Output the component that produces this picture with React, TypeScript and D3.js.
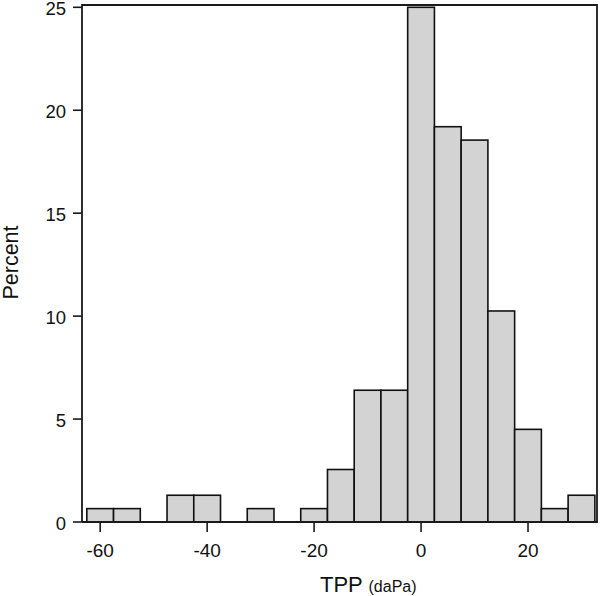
import React from "react";
import * as d3 from "d3";

// bin centers (daPa), width 5
const binCenters = [-60, -55, -50, -45, -40, -35, -30, -25, -20, -15, -10, -5, 0, 5, 10, 15, 20, 25, 30];
const percents = [0.65, 0.65, 0, 1.3, 1.3, 0, 0.65, 0, 0.65, 2.55, 6.4, 6.4, 25.0, 19.2, 18.55, 10.25, 4.5, 0.65, 1.3];
const xTicks = [-60, -40, -20, 0, 20];
const yTicks = [0, 5, 10, 15, 20, 25];
const binWidth = 5;

const W = 600;
const H = 596;
const left = 82;
const right = 597;
const top = 5;
const bottom = 522;

export default function App() {
  const x = d3.scaleLinear().domain([-63.4, 32.9]).range([left, right]);
  const y = d3.scaleLinear().domain([0, 25]).range([bottom, 7.3]);
  const font = "'Liberation Sans', Arial, sans-serif";

  return (
    <div style={{ position: "absolute", left: 0, top: 0 }}>
      <svg width={W} height={H} style={{ display: "block", background: "#fff" }} fontFamily={font}>
        {/* bars */}
        {binCenters.map((c, i) =>
          percents[i] > 0 ? (
            <rect
              key={c}
              x={x(c - binWidth / 2)}
              y={y(percents[i])}
              width={x(c + binWidth / 2) - x(c - binWidth / 2)}
              height={y(0) - y(percents[i])}
              fill="#d3d3d3"
              stroke="#111"
              strokeWidth={1.6}
            />
          ) : null
        )}

        {/* frame */}
        <path
          d={`M${left},${bottom}V${top}H${right}V${bottom}H${left}`}
          fill="none"
          stroke="#1a1a1a"
          strokeWidth={1.8}
        />

        {/* y axis */}
        {yTicks.map((t) => (
          <g key={t}>
            <line x1={left - 9} x2={left} y1={y(t)} y2={y(t)} stroke="#1a1a1a" strokeWidth={1.6} />
            <text x={left - 16} y={y(t)} dy="0.43em" textAnchor="end" fontSize={18.5} fill="#111">
              {t}
            </text>
          </g>
        ))}

        {/* x axis */}
        {xTicks.map((t) => (
          <g key={t}>
            <line x1={x(t)} x2={x(t)} y1={bottom} y2={bottom + 10} stroke="#1a1a1a" strokeWidth={1.6} />
            <text x={x(t)} y={557} textAnchor="middle" fontSize={19} fill="#111">
              {t}
            </text>
          </g>
        ))}

        {/* axis titles */}
        <text
          transform={`translate(17.5, 262.5) rotate(-90)`}
          textAnchor="middle"
          fontSize={21.5}
          fill="#111"
        >
          Percent
        </text>
        <text x={320} y={592} textAnchor="start" fill="#111">
          <tspan fontSize={22}>TPP </tspan>
          <tspan fontSize={16}>(daPa)</tspan>
        </text>
      </svg>
    </div>
  );
}
